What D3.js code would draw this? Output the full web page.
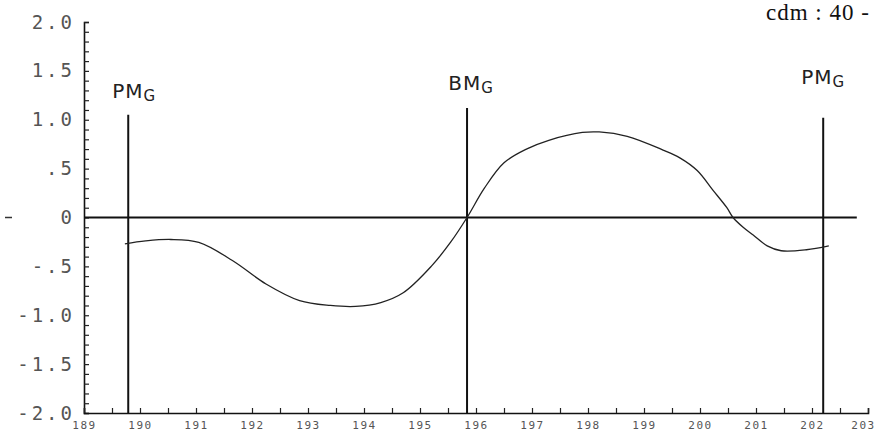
<!DOCTYPE html>
<html>
<head>
<meta charset="utf-8">
<script src="https://cdn.jsdelivr.net/npm/d3@7"></script>
<style>
  body { margin: 0; background: #fff; }
  svg { display: block; }
</style>
</head>
<body>
<svg id="chart" width="879" height="443"></svg>
<script>
// values
const curveX = [189.73, 190.10, 190.55, 191.05, 191.65, 192.25, 192.85, 193.40, 193.85, 194.30,
                194.70, 195.20, 195.55, 195.84, 196.15, 196.50, 196.90, 197.30, 197.90, 198.20,
                198.70, 199.34, 199.64, 199.95, 200.23, 200.48, 200.59, 200.77, 200.95, 201.20,
                201.45, 201.90, 202.30];
const curveY = [-0.27, -0.24, -0.225, -0.255, -0.44, -0.68, -0.85, -0.90, -0.91, -0.87,
                -0.77, -0.50, -0.25, 0.0, 0.30, 0.56, 0.70, 0.79, 0.87, 0.875,
                0.83, 0.69, 0.61, 0.48, 0.28, 0.10, 0.0, -0.10, -0.18, -0.29,
                -0.34, -0.33, -0.29];

const yTicks = [2.0, 1.5, 1.0, 0.5, 0, -0.5, -1.0, -1.5, -2.0];
const yTickLabels = ["2.0", "1.5", "1.0", ".5", "0", "-.5", "-1.0", "-1.5", "-2.0"];
const xTicks = [189, 190, 191, 192, 193, 194, 195, 196, 197, 198, 199, 200, 201, 202, 203];

// vertical marker lines (position in x units, top in y units)
const markerNames = ["PM", "BM", "PM"];
const markerX = [189.79, 195.84, 202.2];
const markerTop = [1.05, 1.12, 1.02];
const labelY = [1.22, 1.30, 1.365];

const svg = d3.select("#chart");

const x = d3.scaleLinear().domain([189, 203]).range([84, 868]);
const y = d3.scaleLinear().domain([-2, 2]).range([413, 22]);

// y axis: minor ticks every 0.1 pointing inward
svg.append("g")
  .attr("transform", `translate(${x(189)},0)`)
  .call(d3.axisLeft(y).tickValues(d3.range(-20, 21).map(d => d / 10)).tickSize(-5).tickFormat(""))
  .call(g => g.select(".domain").attr("stroke", "#111").attr("stroke-width", 1.6))
  .call(g => g.selectAll(".tick line").attr("stroke", "#222").attr("stroke-width", 1.2));

// y labels
svg.append("g")
  .attr("transform", `translate(${x(189)},0)`)
  .call(d3.axisLeft(y).tickValues(yTicks).tickSize(0).tickPadding(9)
    .tickFormat((d, i) => yTickLabels[i]))
  .call(g => g.select(".domain").remove())
  .call(g => g.selectAll("text")
    .attr("font-family", "DejaVu Sans Mono")
    .attr("font-size", 19)
    .attr("letter-spacing", 3)
    .attr("fill", "#555"));

// x axis: ticks every 0.5 pointing up
svg.append("g")
  .attr("transform", `translate(0,${y(-2)})`)
  .call(d3.axisBottom(x).tickValues(d3.range(189, 203.01, 0.5)).tickSize(-5).tickFormat(""))
  .call(g => g.select(".domain").attr("stroke", "#111").attr("stroke-width", 1.6))
  .call(g => g.selectAll(".tick line").attr("stroke", "#222").attr("stroke-width", 1.2));

svg.append("g")
  .attr("transform", `translate(0,${y(-2)})`)
  .call(d3.axisBottom(x).tickValues(xTicks).tickSize(0).tickPadding(8).tickFormat(d3.format("d")))
  .call(g => g.select(".domain").remove())
  .call(g => g.selectAll("text")
    .attr("font-family", "DejaVu Sans Mono")
    .attr("font-size", 11)
    .attr("letter-spacing", 1.5)
    .attr("fill", "#555"))
  .call(g => g.selectAll(".tick:last-of-type text").attr("dx", -5));

// zero line
svg.append("line")
  .attr("x1", x(189)).attr("x2", x(202.8))
  .attr("y1", y(0)).attr("y2", y(0))
  .attr("stroke", "#111").attr("stroke-width", 2);

// small mark at far left
svg.append("line")
  .attr("x1", 5).attr("x2", 12)
  .attr("y1", y(0)).attr("y2", y(0))
  .attr("stroke", "#333").attr("stroke-width", 1.5);

// marker lines
svg.selectAll(".marker")
  .data(markerX)
  .enter()
  .append("line")
  .attr("class", "marker")
  .attr("x1", d => x(d)).attr("x2", d => x(d))
  .attr("y1", (d, i) => y(markerTop[i])).attr("y2", y(-2))
  .attr("stroke", "#111").attr("stroke-width", 2);

// hand-lettered labels above markers
const labelDx = [6, 4, 0];
svg.selectAll(".mlabel")
  .data(markerNames)
  .enter()
  .append("text")
  .attr("class", "mlabel")
  .attr("x", (d, i) => x(markerX[i]) + labelDx[i])
  .attr("y", (d, i) => y(labelY[i]))
  .attr("text-anchor", "middle")
  .attr("font-family", "DejaVu Sans")
  .attr("font-size", 20)
  .attr("letter-spacing", 1)
  .attr("fill", "#222")
  .each(function (d) {
    const t = d3.select(this);
    t.append("tspan").text(d);
    t.append("tspan").attr("font-size", 15).attr("dy", 3).text("G");
  });

// the curve
const pts = curveX.map((d, i) => [d, curveY[i]]);
svg.append("path")
  .datum(pts)
  .attr("fill", "none")
  .attr("stroke", "#222")
  .attr("stroke-width", 1.3)
  .attr("d", d3.line().x(d => x(d[0])).y(d => y(d[1])).curve(d3.curveCatmullRom));

// page header fragment
svg.append("text")
  .attr("x", 766).attr("y", 20)
  .attr("font-family", "Liberation Serif")
  .attr("font-size", 23)
  .attr("letter-spacing", 1)
  .attr("fill", "#111")
  .text("cdm : 40 -");
</script>
</body>
</html>
